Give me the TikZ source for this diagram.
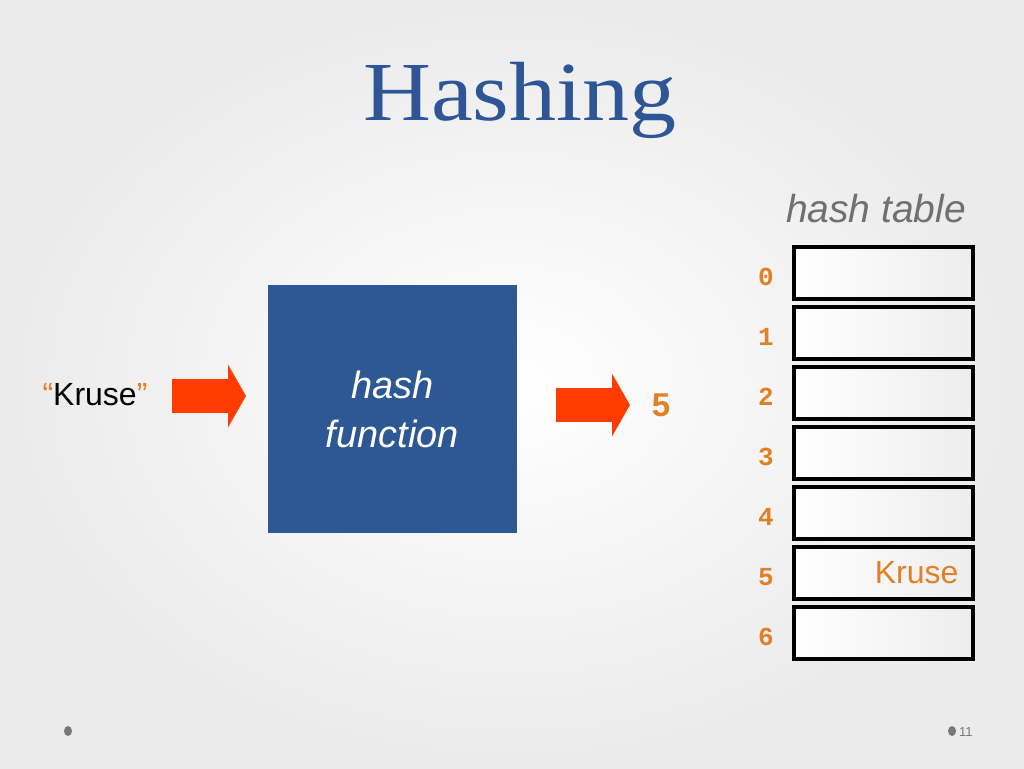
\documentclass[tikz,border=0pt]{standalone}
\usepackage{xcolor}
\usepackage{fontspec}
\setmainfont{Liberation Sans}
\newfontfamily\titlefont[FakeStretch=1.12]{Liberation Serif}
\newfontfamily\idxfont{Liberation Mono}
\usetikzlibrary{arrows.meta,positioning,calc}

\definecolor{titleblue}{RGB}{46,86,150}
\definecolor{boxblue}{RGB}{45,88,147}
\definecolor{arrowred}{RGB}{255,60,0}
\definecolor{keyorange}{RGB}{226,128,38}
\definecolor{labelgray}{RGB}{112,112,112}
\definecolor{dotgray}{RGB}{120,120,120}

\begin{document}
\begin{tikzpicture}[x=1pt,y=-1pt,
  bigarrow/.style={line width=34pt, draw=arrowred,
    -{Triangle[length=18pt,width=63pt,line width=0pt,fill=arrowred]}},
  cellbox/.style={draw=black, line width=4pt, minimum width=179pt,
    minimum height=52pt, inner sep=0pt, left color=white, right color=gray!14},
  idxnum/.style={text=keyorange, anchor=base,
    font=\idxfont\bfseries\fontsize{26}{26}\selectfont},
  sans/.style={font=\fontsize{32}{36}\selectfont}]

% slide background
\useasboundingbox (0,0) rectangle (1024,768);
\shade[inner color=white, outer color=gray!16] (0,0) rectangle (1024,768);

% title
\node[anchor=base, text=titleblue, font=\titlefont\fontsize{84}{84}\selectfont] (title) at (520,120) {Hashing};

% key and hash function
\node[sans, anchor=base] (key) at (95,405) {{\color{keyorange}“}Kruse{\color{keyorange}”}};
\node[fill=boxblue, minimum width=249pt, minimum height=248pt, align=center,
  text=white, font=\itshape\fontsize{38}{49}\selectfont] (hashfn) at (392.5,409) {hash\\function};
\node[anchor=base, text=keyorange, font=\bfseries\fontsize{33}{33}\selectfont] (slot) at (661,416) {5};

% arrows
\coordinate (inL) at (172,396);
\coordinate (inR) at (246,396);
\coordinate (outL) at (556,405);
\coordinate (outR) at (630,405);
\draw[bigarrow] (inL) -- (inR);
\draw[bigarrow] (outL) -- (outR);

% hash table
\node[anchor=base, text=labelgray, font=\itshape\fontsize{39}{39}\selectfont] (tablelabel) at (876,222) {hash table};
\foreach \i in {0,...,6}{
  \node[cellbox] (cell\i) at (883.5,273+60*\i) {};
  \node[idxnum] (idx\i) at (766,285+60*\i) {\i};
}
\node[sans, anchor=base east, text=keyorange] (entry) at (962,583) {Kruse};

% footer
\fill[dotgray] (68,731) ellipse (4 and 5);
\fill[dotgray] (952,731) ellipse (4 and 5);
\node[anchor=west, text=dotgray, font=\fontsize{13}{13}\selectfont, inner sep=1pt] (page) at (958,732) {11};
\end{tikzpicture}
\end{document}
